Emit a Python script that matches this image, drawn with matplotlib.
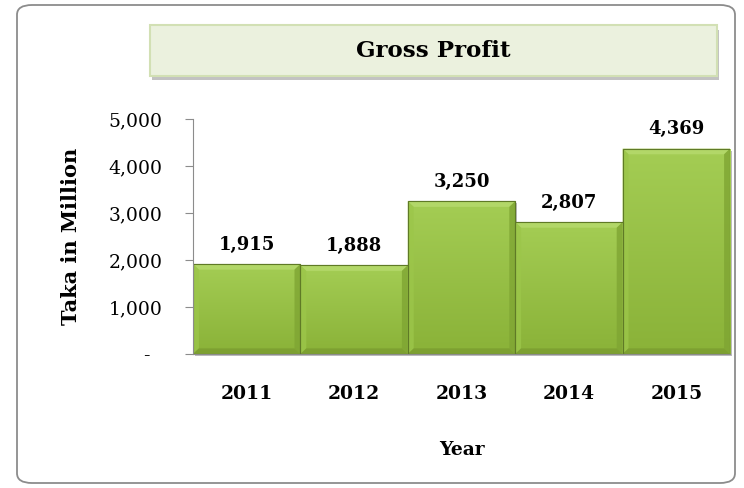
import matplotlib
matplotlib.use("Agg")
import matplotlib.pyplot as plt
from matplotlib.patches import FancyBboxPatch, Polygon, Rectangle
from matplotlib.colors import LinearSegmentedColormap
import numpy as np

years = ["2011", "2012", "2013", "2014", "2015"]
profit = [1915, 1888, 3250, 2807, 4369]
yticks = [0, 1000, 2000, 3000, 4000, 5000]
ytick_labels = ["-  ", "1,000", "2,000", "3,000", "4,000", "5,000"]

W, H = 744, 488
fig = plt.figure(figsize=(W / 100, H / 100), dpi=100)
serif = "DejaVu Serif"

# outer rounded border
fig.patches.append(FancyBboxPatch((17 / W, 5 / H), 718 / W, 478 / H,
                                  boxstyle="round,pad=0,rounding_size=0.02",
                                  transform=fig.transFigure, facecolor="none",
                                  edgecolor="#8c8c8c", linewidth=1.3, zorder=-1))
# title box shadow and box
fig.patches.append(FancyBboxPatch((152 / W, (H - 80) / H), 567 / W, 50 / H,
                                  boxstyle="square,pad=0", transform=fig.transFigure,
                                  facecolor="#a8a8a8", edgecolor="none", alpha=0.7, zorder=1))
fig.patches.append(FancyBboxPatch((150 / W, (H - 76) / H), 567 / W, 51 / H,
                                  boxstyle="square,pad=0", transform=fig.transFigure,
                                  facecolor="#ebf1de", edgecolor="#d2e0b4", linewidth=1.5, zorder=2))
fig.text(433 / W, (H - 51) / H, "Gross Profit", ha="center", va="center",
         fontsize=16.5, fontweight="bold", family=serif, zorder=3)

ax = fig.add_axes([193 / W, (H - 354) / H, (730 - 193) / W, (354 - 119) / H])
ax.set_facecolor("none")
x = np.arange(len(years))
bars = ax.bar(x, profit, width=1.0, color="#9bc74a", edgecolor="#5f7a26",
              linewidth=0.8, zorder=2)

cmap = LinearSegmentedColormap.from_list("g", ["#8ab238", "#a4cd54"])
grad = np.linspace(0, 1, 256).reshape(-1, 1)

bx = 0.055
by = 120
for b in bars:
    x0, y0 = b.get_x(), b.get_y()
    w, h = b.get_width(), b.get_height()
    x1, y1 = x0 + w, y0 + h
    # shadow
    ax.add_patch(Rectangle((x0 + 0.02, y0 - 40), w, h, facecolor="#bdbdbd",
                           edgecolor="none", zorder=1, clip_on=False))
    im = ax.imshow(grad, extent=(x0, x1, y0, y1), origin="lower", cmap=cmap,
                   aspect="auto", zorder=2.5, interpolation="bilinear")
    im.set_clip_path(b)
    ax.add_patch(Polygon([(x0, y1), (x1, y1), (x1 - bx, y1 - by), (x0 + bx, y1 - by)],
                         closed=True, facecolor="#b2d768", edgecolor="none", zorder=3))
    ax.add_patch(Polygon([(x0, y0), (x0, y1), (x0 + bx, y1 - by), (x0 + bx, y0 + by)],
                         closed=True, facecolor="#9cc64a", edgecolor="none", alpha=0.8, zorder=3))
    ax.add_patch(Polygon([(x1, y0), (x1, y1), (x1 - bx, y1 - by), (x1 - bx, y0 + by)],
                         closed=True, facecolor="#7fa533", edgecolor="none", alpha=0.8, zorder=3))
    ax.add_patch(Polygon([(x0, y0), (x1, y0), (x1 - bx, y0 + by), (x0 + bx, y0 + by)],
                         closed=True, facecolor="#7a9c30", edgecolor="none", alpha=0.8, zorder=3))
    ax.add_patch(Polygon([(x0, y0), (x1, y0), (x1, y1), (x0, y1)], closed=True,
                         facecolor="none", edgecolor="#5f7a26", linewidth=0.8, zorder=4))
    ax.text(b.get_x() + w / 2, y1 + 220, f"{int(h):,}", ha="center", va="bottom",
            fontsize=13, fontweight="bold", family=serif)

ax.set_xlim(-0.5, 4.5)
ax.set_ylim(0, 5000)
ax.set_yticks(yticks)
ax.set_yticklabels(ytick_labels, family=serif, fontsize=13.5)
ax.set_xticks(x)
ax.set_xticklabels(years, family=serif, fontsize=13.5, fontweight="bold")
ax.tick_params(axis="y", length=6, color="#8c8c8c", pad=16)
ax.tick_params(axis="x", length=0, pad=22)
for s in ["top", "right"]:
    ax.spines[s].set_visible(False)
ax.spines["left"].set_color("#8c8c8c")
ax.spines["bottom"].set_color("#8c8c8c")
ax.spines["left"].set_zorder(5)
ax.spines["bottom"].set_zorder(5)
ax.set_ylabel("Taka in Million", family=serif, fontsize=15, fontweight="bold", labelpad=20)
ax.set_xlabel("Year", family=serif, fontsize=13.5, fontweight="bold", labelpad=28)

fig.savefig("out.png", dpi=100)
